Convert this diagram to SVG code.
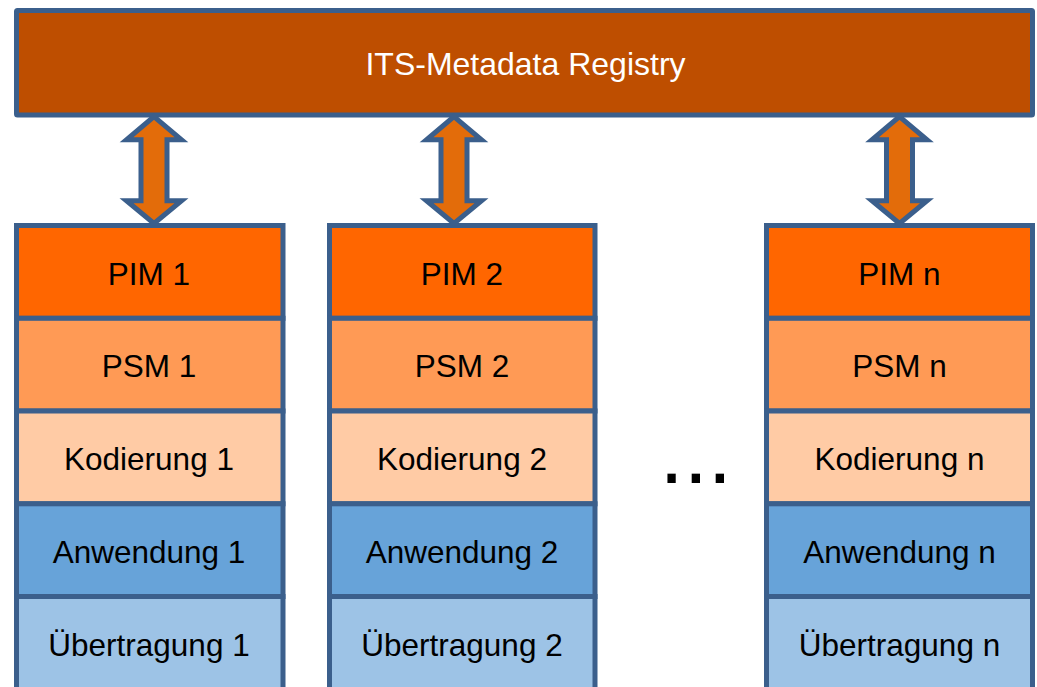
<svg xmlns="http://www.w3.org/2000/svg" width="1037" height="687" viewBox="0 0 1037 687">
<style>
.box{stroke:#3B5F8C;stroke-width:5}
.bar{fill:#BE4E00}
.pim{fill:#FF6600}
.psm{fill:#FF9A55}
.kod{fill:#FFCBA5}
.anw{fill:#67A3D9}
.ueb{fill:#9DC3E6}
.lbl{font-family:"Liberation Sans",Arial,sans-serif;font-size:31.5px;text-anchor:middle;fill:#000}
.arrow{fill:#E36C0A;stroke:#3B5F8C;stroke-width:5;stroke-linejoin:miter}
</style>
<defs>
<path id="dbl" d="M0,116.6 L27.5,139.8 L13,139.8 L13,200.8 L27.5,200.8 L0,223.4 L-27.5,200.8 L-13,200.8 L-13,139.8 L-27.5,139.8 Z"/>
</defs>
<rect width="1037" height="687" fill="#fff"/>
<g id="registry">
<rect class="box bar" x="16.5" y="10.5" width="1016" height="104.5" rx="1"/>
<text class="lbl" x="525.5" y="74.5" style="fill:#fff;font-size:32px">ITS-Metadata Registry</text>
</g>
<g id="col1">
<rect class="box pim" x="16.5" y="225.5" width="266.5" height="92.8"/>
<rect class="box psm" x="16.5" y="318.3" width="266.5" height="92.7"/>
<rect class="box kod" x="16.5" y="411" width="266.5" height="92.8"/>
<rect class="box anw" x="16.5" y="503.8" width="266.5" height="92.7"/>
<rect class="box ueb" x="16.5" y="596.5" width="266.5" height="95"/>
<text class="lbl" x="149" y="284.5">PIM 1</text>
<text class="lbl" x="149" y="377.3">PSM 1</text>
<text class="lbl" x="149" y="470.3">Kodierung 1</text>
<text class="lbl" x="149" y="563.3">Anwendung 1</text>
<text class="lbl" x="149" y="655.5">Übertragung 1</text>
</g>
<g id="col2">
<rect class="box pim" x="329.5" y="225.5" width="265.5" height="92.8"/>
<rect class="box psm" x="329.5" y="318.3" width="265.5" height="92.7"/>
<rect class="box kod" x="329.5" y="411" width="265.5" height="92.8"/>
<rect class="box anw" x="329.5" y="503.8" width="265.5" height="92.7"/>
<rect class="box ueb" x="329.5" y="596.5" width="265.5" height="95"/>
<text class="lbl" x="462" y="284.5">PIM 2</text>
<text class="lbl" x="462" y="377.3">PSM 2</text>
<text class="lbl" x="462" y="470.3">Kodierung 2</text>
<text class="lbl" x="462" y="563.3">Anwendung 2</text>
<text class="lbl" x="462" y="655.5">Übertragung 2</text>
</g>
<g id="coln">
<rect class="box pim" x="766.5" y="225.5" width="266" height="92.8"/>
<rect class="box psm" x="766.5" y="318.3" width="266" height="92.7"/>
<rect class="box kod" x="766.5" y="411" width="266" height="92.8"/>
<rect class="box anw" x="766.5" y="503.8" width="266" height="92.7"/>
<rect class="box ueb" x="766.5" y="596.5" width="266" height="95"/>
<text class="lbl" x="899.5" y="284.5">PIM n</text>
<text class="lbl" x="899.5" y="377.3">PSM n</text>
<text class="lbl" x="899.5" y="470.3">Kodierung n</text>
<text class="lbl" x="899.5" y="563.3">Anwendung n</text>
<text class="lbl" x="899.5" y="655.5">Übertragung n</text>
</g>
<g id="ellipsis">
<text x="659.5" y="482.5" style="font-family:'Liberation Sans',Arial,sans-serif;font-size:87px;fill:#000">...</text>
</g>
<g id="connectors">
<use href="#dbl" class="arrow" x="154" y="0"/>
<use href="#dbl" class="arrow" x="454" y="0"/>
<use href="#dbl" class="arrow" x="899.5" y="0"/>
</g>
</svg>
